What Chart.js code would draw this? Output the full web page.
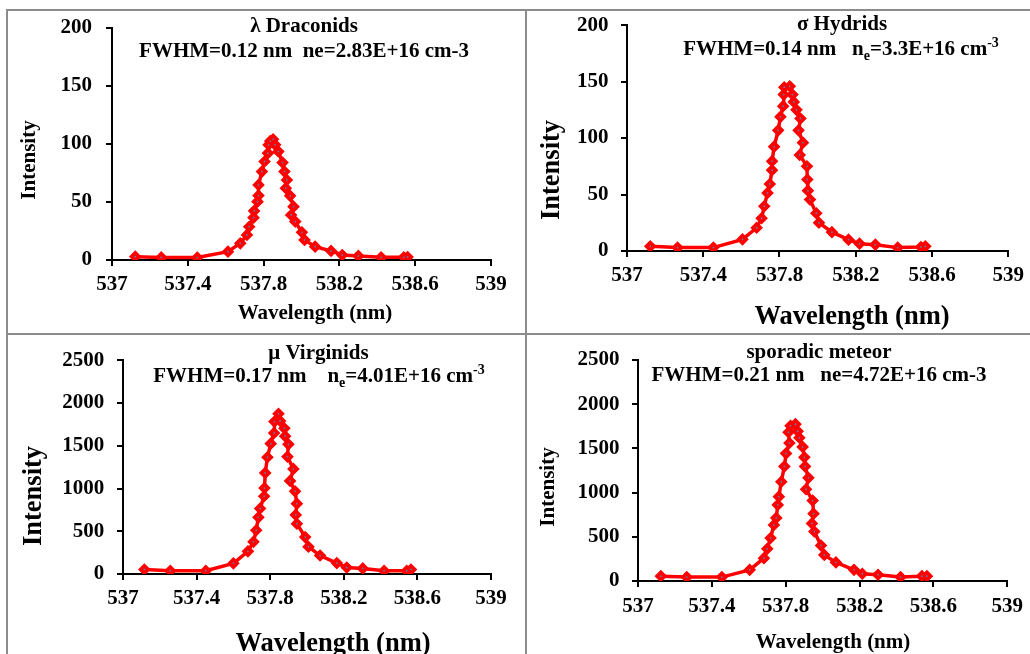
<!DOCTYPE html>
<html>
<head>
<meta charset="utf-8">
<title>Line profiles</title>
<script src="https://cdn.jsdelivr.net/npm/chart.js@4"></script>
<style>
  body { margin: 0; background: #fff; }
  #wrap { position: relative; width: 1030px; height: 654px; overflow: hidden; background: #fff; }
  canvas { position: absolute; }
  .ln { position: absolute; background: #8c8c8c; }
</style>
</head>
<body>
<div id="wrap">
  <canvas id="c1" width="525" height="333" style="left:0;top:0"></canvas>
  <canvas id="c2" width="503" height="333" style="left:527px;top:0"></canvas>
  <canvas id="c3" width="525" height="319" style="left:0;top:335px"></canvas>
  <canvas id="c4" width="503" height="319" style="left:527px;top:335px"></canvas>
  <div class="ln" style="left:6px;top:9px;width:1024px;height:2px"></div>
  <div class="ln" style="left:6px;top:9px;width:2px;height:645px"></div>
  <div class="ln" style="left:525px;top:9px;width:2px;height:645px"></div>
  <div class="ln" style="left:6px;top:333px;width:1024px;height:2px"></div>
</div>
<script>
// tick labels
const xTickLabels = ['537', '537.4', '537.8', '538.2', '538.6', '539'];
const lowTicks = ['0', '50', '100', '150', '200'];
const highTicks = ['0', '500', '1000', '1500', '2000', '2500'];

// λ Draconids
const draconidsWl = [537.123, 537.26, 537.45, 537.612, 537.677, 537.712, 537.724, 537.747, 537.75, 537.768, 537.773, 537.773,
  537.791, 537.805, 537.823, 537.826, 537.835, 537.85, 537.861, 537.878, 537.9, 537.91, 537.923, 537.917, 537.94, 537.958,
  537.945, 537.967, 538.002, 538.016, 538.072, 538.156, 538.215, 538.30, 538.42, 538.54, 538.56];
const draconidsInt = [2.9, 2.2, 2.1, 7.2, 14.4, 21.6, 28.7, 36.5, 42.3, 50.3, 55.5, 64.7,
  76.2, 84.9, 92.1, 99.3, 102.5, 104, 99.3, 93.5, 84, 76.2, 69, 61.9, 55.3, 46,
  38.8, 33.1, 23.9, 17.3, 11.5, 7.8, 4.3, 3.5, 2.3, 2.3, 2.6];

// σ Hydrids
const hydridsWl = [537.122, 537.265, 537.453, 537.606, 537.68, 537.706, 537.72, 537.737, 537.749, 537.761, 537.761, 537.772,
  537.793, 537.805, 537.819, 537.822, 537.825, 537.854, 537.868, 537.875, 537.889, 537.91, 537.90, 537.923, 537.906,
  537.944, 537.946, 537.949, 537.96, 537.993, 538.007, 538.075, 538.162, 538.22, 538.303, 538.42, 538.542, 538.565];
const hydridsInt = [4.1, 3, 3, 10.3, 20.6, 29, 39.6, 51.4, 59.3, 71.6, 79.5, 92.4,
  106.8, 118.8, 128.2, 138.5, 145, 145.8, 138.5, 132, 125, 117.3, 106.8, 95.9, 85,
  75, 63.3, 53.4, 45.5, 33.4, 25, 16.7, 10, 6.5, 5.6, 3, 3.5, 4.1];

// μ Virginids
const virginidsWl = [537.116, 537.257, 537.45, 537.60, 537.679, 537.709, 537.724, 537.736, 537.745, 537.767, 537.769, 537.773,
  537.785, 537.803, 537.821, 537.823, 537.845, 537.854, 537.877, 537.881, 537.899, 537.894, 537.926, 537.908, 537.935,
  537.945, 537.939, 537.945, 537.99, 538.008, 538.071, 538.162, 538.216, 538.303, 538.419, 538.542, 538.565];
const virginidsInt = [53, 38, 38, 125, 265, 376, 512, 663, 766, 910, 1005, 1183,
  1366, 1525, 1650, 1783, 1874, 1790, 1704, 1612, 1517, 1373, 1229, 1089, 967,
  823, 691, 588, 432, 319, 216, 128, 76, 65, 38, 38, 53];

// sporadic meteor
const sporadicWl = [537.124, 537.264, 537.454, 537.605, 537.682, 537.70, 537.718, 537.736, 537.749, 537.757, 537.763, 537.776,
  537.793, 537.802, 537.82, 537.815, 537.826, 537.853, 537.865, 537.874, 537.892, 537.901, 537.905, 537.923, 537.91,
  537.946, 537.951, 537.942, 537.955, 537.991, 538.009, 538.072, 538.17, 538.215, 538.30, 538.422, 538.538, 538.565];
const sporadicInt = [55, 44, 44, 126, 258, 364, 486, 634, 714, 861, 954, 1123,
  1296, 1443, 1561, 1683, 1755, 1774, 1694, 1620, 1517, 1399, 1296, 1167, 1038,
  910, 762, 651, 560, 402, 295, 210, 126, 82, 71, 44, 55, 55];

const FAMILY = '"Liberation Serif", "Times New Roman", serif';
const RED = '#ff0000';

function toPoints(xs, ys) {
  return xs.map((x, i) => ({ x: x, y: ys[i] }));
}

// draws panel titles and axis titles (with sub/superscripts)
function makeTextPlugin(lines) {
  return {
    id: 'panelText',
    afterDraw(chart) {
      const ctx = chart.ctx;
      ctx.save();
      ctx.fillStyle = '#000';
      ctx.textBaseline = 'middle';
      lines.forEach(line => {
        const small = Math.round(line.size * 0.66);
        const segs = line.parts.map(p => {
          const s = (p.sub || p.sup) ? small : line.size;
          ctx.font = 'bold ' + s + 'px ' + FAMILY;
          return { p: p, s: s, w: ctx.measureText(p.t).width };
        });
        const total = segs.reduce((a, b) => a + b.w, 0);
        ctx.save();
        ctx.translate(line.x, line.y);
        if (line.rotate) ctx.rotate(-Math.PI / 2);
        let x = -total / 2;
        segs.forEach(sg => {
          ctx.font = 'bold ' + sg.s + 'px ' + FAMILY;
          let dy = 0;
          if (sg.p.sub) dy = line.size * 0.3;
          if (sg.p.sup) dy = -line.size * 0.3;
          ctx.fillText(sg.p.t, x, dy);
          x += sg.w;
        });
        ctx.restore();
      });
      ctx.restore();
    }
  };
}

function makeChart(id, wl, inten, yMax, yStep, yTicks, box, lines) {
  const pts = toPoints(wl, inten);
  const tickFont = { family: FAMILY, size: 21, weight: 'bold' };
  new Chart(document.getElementById(id), {
    type: 'scatter',
    data: {
      datasets: [
        {
          data: pts,
          showLine: false,
          pointStyle: 'circle',
          pointRadius: 0.9,
          pointBackgroundColor: '#5b7fb0',
          pointBorderWidth: 0,
          order: 0
        },
        {
          data: pts,
          showLine: true,
          borderColor: RED,
          borderWidth: 3.5,
          pointStyle: 'rectRot',
          pointRadius: 5.2,
          pointBackgroundColor: RED,
          pointBorderColor: RED,
          pointBorderWidth: 1.6,
          order: 1
        }
      ]
    },
    options: {
      responsive: false,
      animation: false,
      layout: { padding: { left: 0, top: box.top, right: box.right, bottom: 0 } },
      plugins: { legend: { display: false }, tooltip: { enabled: false } },
      scales: {
        x: {
          type: 'linear',
          min: 537, max: 539,
          ticks: {
            stepSize: 0.4, color: '#000', font: tickFont, padding: box.xPad,
            maxRotation: 0, autoSkip: false,
            callback: (v, i) => xTickLabels[i]
          },
          grid: { drawOnChartArea: false, drawTicks: true, tickLength: 6, color: '#000', lineWidth: 2 },
          border: { color: '#000', width: 2 },
          afterFit: s => { s.height = box.xH; }
        },
        y: {
          min: 0, max: yMax,
          ticks: {
            stepSize: yStep, color: '#000', font: tickFont, padding: box.yPad,
            callback: (v, i) => yTicks[i]
          },
          grid: { drawOnChartArea: false, drawTicks: true, tickLength: 6, color: '#000', lineWidth: 2 },
          border: { color: '#000', width: 2 },
          afterFit: s => { s.width = box.yW; }
        }
      }
    },
    plugins: [makeTextPlugin(lines)]
  });
}

makeChart('c1', draconidsWl, draconidsInt, 200, 50, lowTicks,
  { top: 28, right: 34, xH: 73, yW: 112, xPad: 6, yPad: 14 },
  [
    { x: 304, y: 27, size: 21, parts: [{ t: 'λ Draconids' }] },
    { x: 304, y: 52, size: 21, parts: [{ t: 'FWHM=0.12 nm  ne=2.83E+16 cm-3' }] },
    { x: 315, y: 314, size: 21, parts: [{ t: 'Wavelength (nm)' }] },
    { x: 30, y: 160, size: 21, rotate: true, parts: [{ t: 'Intensity' }] }
  ]);

makeChart('c2', hydridsWl, hydridsInt, 200, 50, lowTicks,
  { top: 23, right: 21, xH: 82, yW: 100, xPad: 6, yPad: 12.5 },
  [
    { x: 315, y: 25, size: 21, parts: [{ t: 'σ Hydrids' }] },
    { x: 314, y: 50, size: 21, parts: [{ t: 'FWHM=0.14 nm   n' }, { t: 'e', sub: true }, { t: '=3.3E+16 cm' }, { t: '-3', sup: true }] },
    { x: 325, y: 317, size: 26.5, parts: [{ t: 'Wavelength (nm)' }] },
    { x: 25, y: 170, size: 26.5, rotate: true, parts: [{ t: 'Intensity' }] }
  ]);

makeChart('c3', virginidsWl, virginidsInt, 2500, 500, highTicks,
  { top: 19, right: 34, xH: 80, yW: 123, xPad: 6, yPad: 12.7 },
  [
    { x: 318.5, y: 18.3, size: 21, parts: [{ t: 'μ Virginids' }] },
    { x: 319, y: 41.7, size: 21, parts: [{ t: 'FWHM=0.17 nm    n' }, { t: 'e', sub: true }, { t: '=4.01E+16 cm' }, { t: '-3', sup: true }] },
    { x: 333, y: 309, size: 26.5, parts: [{ t: 'Wavelength (nm)' }] },
    { x: 33.7, y: 161, size: 26.5, rotate: true, parts: [{ t: 'Intensity' }] }
  ]);

makeChart('c4', sporadicWl, sporadicInt, 2500, 500, highTicks,
  { top: 19, right: 21, xH: 73, yW: 111, xPad: 7, yPad: 12.4 },
  [
    { x: 292, y: 17.5, size: 21, parts: [{ t: 'sporadic meteor' }] },
    { x: 292, y: 41, size: 21, parts: [{ t: 'FWHM=0.21 nm   ne=4.72E+16 cm-3' }] },
    { x: 306, y: 307.5, size: 21, parts: [{ t: 'Wavelength (nm)' }] },
    { x: 22, y: 152, size: 21, rotate: true, parts: [{ t: 'Intensity' }] }
  ]);
</script>
</body>
</html>
